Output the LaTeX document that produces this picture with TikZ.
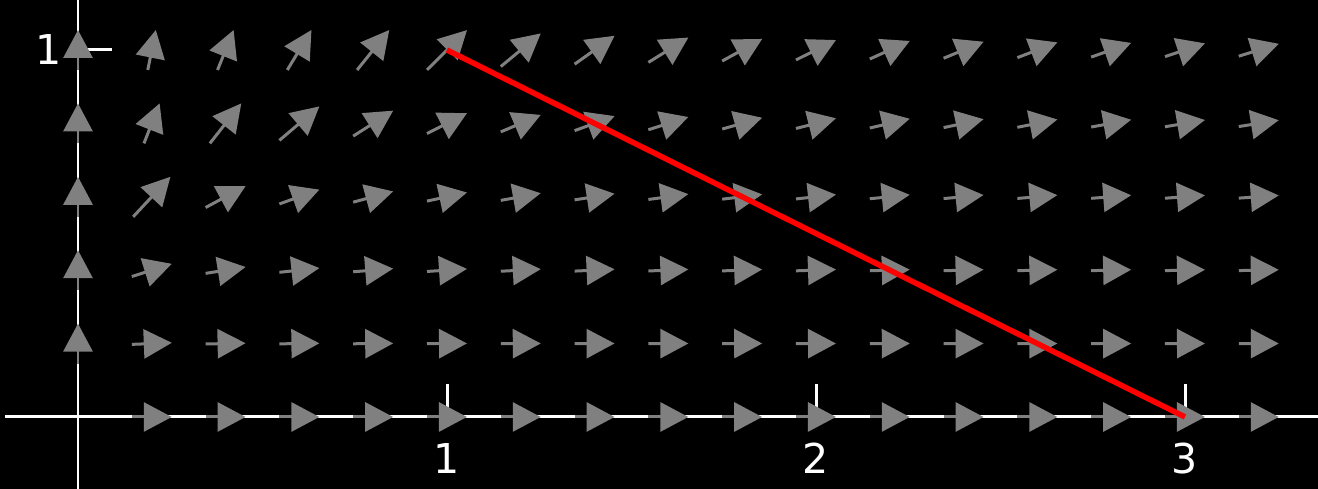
\documentclass[tikz,border=0pt]{standalone}
\usepackage{fontspec}
\setmainfont{DejaVu Sans}
\usetikzlibrary{arrows.meta,calc}
\definecolor{fieldgray}{RGB}{128,128,128}
\definecolor{segred}{RGB}{255,0,0}
\tikzset{
  axisline/.style={white, line width=0.03cm},
  ticklabel/.style={white, inner sep=0pt, font=\fontsize{11.7pt}{14pt}\selectfont},
  fieldarrow/.style={fieldgray, line width=0.03cm,
    -{Triangle[length=0.28cm, width=0.29cm]}},
  segment/.style={segred, line width=0.055cm}
}
\begin{document}
\begin{tikzpicture}
  % canvas
  \fill[black] (0,0) rectangle (13.18,4.89);
  \useasboundingbox (0,0) rectangle (13.18,4.89);
  % axes
  \draw[axisline] (0.05,0.72) -- (13.18,0.72);
  \draw[axisline] (0.78,0) -- (0.78,4.89);
  \begin{scope}[shift={(0.78,0.72)}, x=3.69cm, y=3.67cm]
    % ticks and labels
    \foreach \t in {1,2,3} {
      \draw[axisline] (\t,0) -- (\t,0.09);
      \node[ticklabel] (xl\t) at (\t,-0.112) {\t};
    }
    \draw[axisline] (0,1) -- (0.092,1);
    \node[ticklabel] (yl1) at (-0.08,1) {1};
    % direction field (x, y^3); arrows normalised in the max-norm,
    % centred on the grid points
    \foreach \i in {0,...,16} {
      \foreach \j in {0,...,5} {
        \pgfmathsetmacro{\xx}{0.2*\i}
        \pgfmathsetmacro{\yy}{0.2*\j}
        \pgfmathtruncatemacro{\skip}{(\i==0 && \j==0) ? 1 : 0}
        \ifnum\skip=0
          \pgfmathsetmacro{\ang}{atan2(\yy*\yy*\yy*3.67, \xx*3.69)}
          \pgfmathsetmacro{\back}{\ang+180}
          \pgfmathsetmacro{\rr}{0.2/max(abs(cos(\ang)),abs(sin(\ang)))}
          \coordinate (c) at (\xx,\yy);
          \draw[fieldarrow] ($(c)+(\back:\rr cm)$) -- ($(c)+(\ang:\rr cm)$);
        \fi
      }
    }
    % segment from (1,1) to (3,0)
    \coordinate (p) at (1,1);
    \coordinate (q) at (3,0);
    \draw[segment] (p) -- (q);
  \end{scope}
\end{tikzpicture}
\end{document}
